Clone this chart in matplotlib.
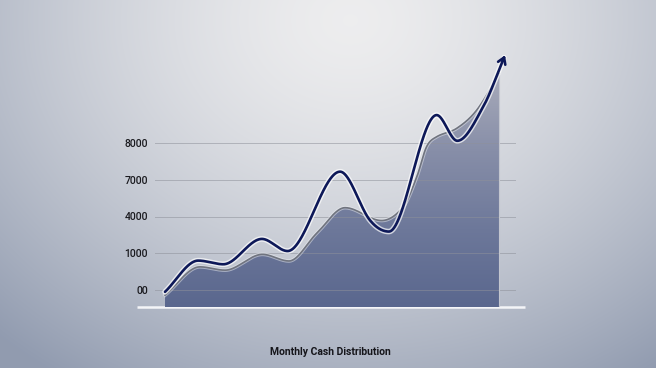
import numpy as np
import matplotlib
matplotlib.use("Agg")
import matplotlib.pyplot as plt
import matplotlib.patheffects as pe
from matplotlib.colors import LinearSegmentedColormap

# ---------------- data (months, value in grid-step units) ----------------
tick_positions = [0, 1, 2, 3, 4]
tick_labels = ["00", "1000", "4000", "7000", "8000"]
title_text = "Monthly Cash Distribution"

trend_x = [0.00, 1.19, 2.09, 3.47, 4.39, 6.27, 7.34, 8.02, 9.73, 10.47, 11.40, 12.18]
trend_y = [-0.05, 0.80, 0.70, 1.39, 1.06, 3.22, 1.90, 1.59, 4.76, 4.06, 4.99, 6.39]

area_x = [0.00, 1.25, 2.15, 3.49, 4.44, 5.43, 6.45, 7.76, 8.54, 9.02, 9.37, 9.73, 10.45, 11.17, 11.97]
area_y = [-0.14, 0.63, 0.54, 0.97, 0.79, 1.54, 2.24, 1.89, 2.27, 3.08, 3.90, 4.17, 4.40, 4.90, 5.89]


def smooth(x, y, xn):
    """Cubic Hermite: centred slopes, flat at local extrema."""
    x = np.asarray(x, float); y = np.asarray(y, float)
    h = np.diff(x); d = np.diff(y) / h
    n = len(x); m = np.zeros(n)
    for k in range(1, n - 1):
        if d[k - 1] * d[k] > 0:
            m[k] = (y[k + 1] - y[k - 1]) / (x[k + 1] - x[k - 1])
    m[0] = d[0]; m[-1] = d[-1]
    idx = np.clip(np.searchsorted(x, xn) - 1, 0, n - 2)
    t = (xn - x[idx]) / h[idx]
    h00 = 2 * t**3 - 3 * t**2 + 1; h10 = t**3 - 2 * t**2 + t
    h01 = -2 * t**3 + 3 * t**2; h11 = t**3 - t**2
    return h00 * y[idx] + h10 * h[idx] * m[idx] + h01 * y[idx + 1] + h11 * h[idx] * m[idx + 1]


font_kw = dict(family=["Roboto", "DejaVu Sans"])

W, H = 656, 368
fig = plt.figure(figsize=(W / 100, H / 100), dpi=100)

# ---------------- background gradient ----------------
bg = fig.add_axes([0, 0, 1, 1])
bg.set_axis_off()
yy, xx = np.mgrid[0:H, 0:W]
r = np.sqrt(((xx - 350) / 470.0) ** 2 + ((yy - 20) / 390.0) ** 2)
r = np.clip(r, 0, 1.1) / 1.1
light = np.array([0.93, 0.93, 0.935])
dark = np.array([0.57, 0.61, 0.69])
t = r ** 1.5
img = light[None, None, :] * (1 - t[..., None]) + dark[None, None, :] * t[..., None]
bg.imshow(img, extent=[0, W, H, 0], aspect="auto")
bg.set_xlim(0, W); bg.set_ylim(H, 0)
bg.plot([137, 525], [307, 307], color="#f4f5f8", lw=1.8, solid_capstyle="butt")

# ---------------- main axes ----------------
ax = fig.add_axes([155 / W, (H - 307) / H, (516 - 155) / W, (307 - 40) / H])
ax.patch.set_alpha(0)
for s in ax.spines.values():
    s.set_visible(False)
x0 = (155 - 165) / 27.917
x1 = (516 - 165) / 27.917
y0 = (290 - 307) / 36.75
y1 = (290 - 40) / 36.75
ax.set_xlim(x0, x1)
ax.set_ylim(y0, y1)
ax.set_xticks([])
ax.set_yticks(tick_positions)
ax.set_yticklabels(tick_labels, fontsize=7.5, color="#1a1a1f", fontweight="medium", **font_kw)
ax.tick_params(axis="y", length=0, pad=5)
ax.yaxis.grid(True, color="#8e919a", lw=0.7)
ax.set_axisbelow(False)
for gl in ax.yaxis.get_gridlines():
    gl.set_zorder(2.5)
    gl.set_alpha(0.55)

# area
xa = np.linspace(area_x[0], area_x[-1], 800)
ya = smooth(area_x, area_y, xa)
poly = ax.fill_between(xa, ya, y0, color="none", lw=0, zorder=2)
grad = np.linspace(0, 1, 256)[:, None]
cmap = LinearSegmentedColormap.from_list("ar", ["#5a678e", "#6d789a", "#878ea8", "#a8abba"])
im = ax.imshow(grad, extent=[xa[0], xa[-1], y0, max(area_y)], origin="lower",
               aspect="auto", cmap=cmap, zorder=2)
im.set_clip_path(poly.get_paths()[0], transform=ax.transData)
ax.plot(xa, ya, color="#70747f", lw=1.2, zorder=3,
        path_effects=[pe.Stroke(linewidth=2.6, foreground="#eceef2", alpha=0.5), pe.Normal()])
ax.plot([xa[-1], xa[-1]], [ya[-1], y0], color="#c3c6cf", lw=0.8, zorder=3)

# trend line
xt = np.linspace(trend_x[0], trend_x[-1], 1000)
yt = smooth(trend_x, trend_y, xt)
glow = [pe.Stroke(linewidth=4.0, foreground="white", alpha=0.7), pe.Normal()]
ax.plot(xt[:-3], yt[:-3], color="#0d1858", lw=1.9, zorder=4, solid_capstyle="round",
        path_effects=glow)
ax.annotate("", xy=(xt[-1], yt[-1]), xytext=(xt[-8], yt[-8]),
            arrowprops=dict(arrowstyle="->,head_length=0.45,head_width=0.28",
                            color="#0d1858", lw=1.9, shrinkA=0, shrinkB=0),
            zorder=5, annotation_clip=False)

fig.text(330 / W, 1 - 352 / H, title_text, ha="center", va="center",
         fontsize=7.5, color="#15151a", fontweight="bold", **font_kw)

fig.savefig("out.png", dpi=100)
